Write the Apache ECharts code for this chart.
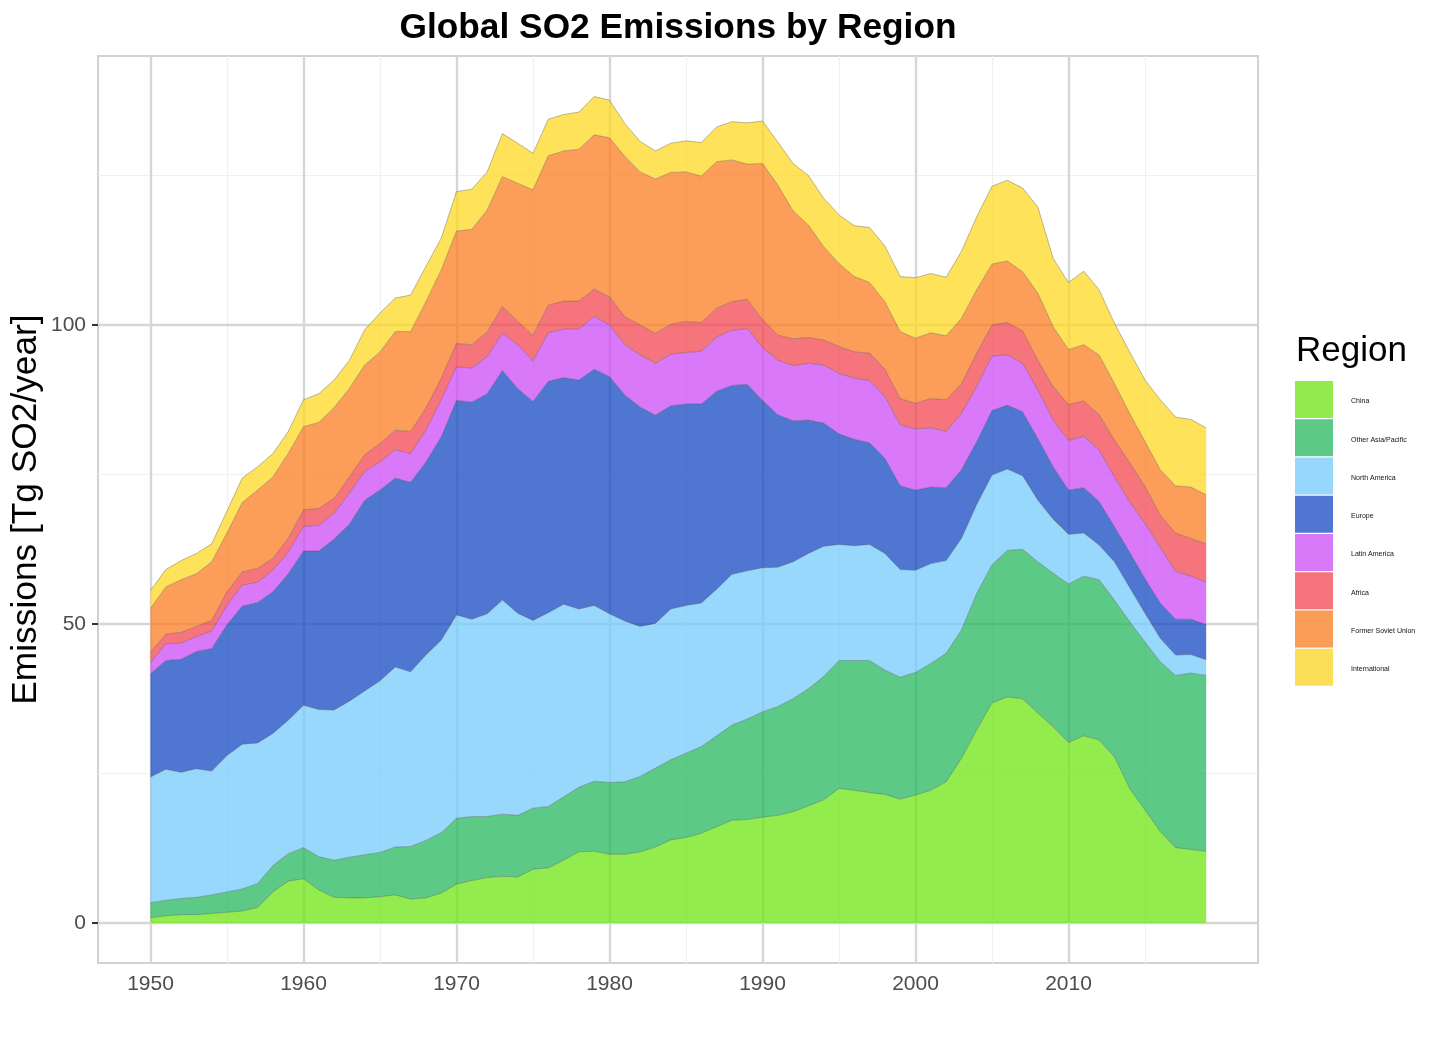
<!DOCTYPE html>
<html><head><meta charset="utf-8">
<style>html,body{margin:0;padding:0;background:#fff}#c{width:1440px;height:1046px}</style>
<script src="https://cdn.jsdelivr.net/npm/echarts@6/dist/echarts.min.js"></script>
</head><body><div id="c"></div>
<script>
const years=[1950,1951,1952,1953,1954,1955,1956,1957,1958,1959,1960,1961,1962,1963,1964,1965,1966,1967,1968,1969,1970,1971,1972,1973,1974,1975,1976,1977,1978,1979,1980,1981,1982,1983,1984,1985,1986,1987,1988,1989,1990,1991,1992,1993,1994,1995,1996,1997,1998,1999,2000,2001,2002,2003,2004,2005,2006,2007,2008,2009,2010,2011,2012,2013,2014,2015,2016,2017,2018,2019];
const china=[0.9,1.2,1.4,1.4,1.6,1.8,2.0,2.6,5.2,7.0,7.4,5.5,4.3,4.2,4.2,4.4,4.7,4.0,4.2,5.0,6.5,7.1,7.6,7.8,7.7,9.0,9.2,10.5,11.9,12.0,11.5,11.5,11.9,12.7,13.9,14.3,15.0,16.1,17.2,17.3,17.7,18.0,18.6,19.6,20.6,22.5,22.2,21.8,21.5,20.7,21.4,22.2,23.6,27.5,32.3,36.8,37.8,37.5,35.1,32.8,30.2,31.3,30.6,27.8,22.5,18.9,15.3,12.6,12.3,12.0];
const otherAsia=[2.5,2.6,2.7,2.9,3.1,3.4,3.7,4.0,4.4,4.6,5.2,5.6,6.2,6.8,7.2,7.4,8.0,8.8,9.6,10.1,11.0,10.7,10.2,10.4,10.3,10.2,10.3,10.6,10.8,11.7,12.0,12.1,12.6,13.2,13.4,14.1,14.5,15.2,15.9,16.8,17.6,18.2,18.9,19.6,20.6,21.4,21.7,22.1,20.8,20.4,20.5,21.2,21.5,21.5,22.8,23.1,24.5,25.0,25.3,25.7,26.5,26.7,26.8,26.2,27.9,28.1,28.4,28.8,29.5,29.4];
const northAmerica=[21.0,21.9,21.1,21.5,20.7,22.8,24.2,23.5,22.1,22.3,23.8,24.6,25.1,26.1,27.4,28.7,30.1,29.2,31.0,32.2,34.0,33.0,33.9,35.8,33.8,31.4,32.4,32.2,29.8,29.4,28.2,26.9,25.1,24.2,25.2,24.7,24.0,24.5,25.2,24.8,24.1,23.3,22.9,22.6,21.8,19.4,19.2,19.4,19.5,18.0,17.1,16.7,15.5,15.3,14.9,15.0,13.6,12.3,10.3,9.0,8.3,7.2,5.8,6.4,5.7,4.8,3.9,3.4,3.1,2.6];
const europe=[17.3,18.2,18.9,19.6,20.5,21.9,23.1,23.5,23.7,24.5,25.8,26.5,28.6,29.6,31.9,31.9,31.6,31.7,32.3,34.0,35.9,36.3,36.8,38.4,37.6,36.6,38.7,37.9,38.3,39.5,39.7,37.8,36.7,34.8,34.0,33.7,33.3,33.1,31.6,31.2,28.0,25.5,23.6,22.3,20.6,18.5,17.8,17.0,15.9,14.0,13.4,12.8,12.2,11.5,10.5,10.8,10.7,10.7,10.3,8.8,7.4,7.6,7.3,5.9,5.9,5.8,5.9,6.0,5.9,5.9];
const latinAmerica=[1.8,2.8,2.7,2.5,2.9,3.2,3.5,3.4,3.6,3.6,4.1,4.3,4.3,5.2,4.8,4.7,4.7,4.8,5.3,6.2,5.6,5.7,6.2,6.2,7.3,6.8,8.1,8.1,8.5,8.8,8.6,8.4,8.7,8.7,8.6,8.6,8.8,9.1,9.2,9.3,8.8,9.1,9.2,9.5,9.7,10.1,10.2,10.4,10.3,10.2,10.2,9.9,9.4,9.4,9.2,9.1,8.4,8.1,8.1,7.8,8.3,8.6,8.6,8.3,8.4,9.2,9.3,8.0,7.2,7.1];
const africa=[1.8,1.6,1.8,1.7,1.8,2.3,2.2,2.3,2.0,2.3,2.8,2.8,2.5,2.7,2.8,3.1,3.3,3.7,3.7,3.6,3.9,3.9,4.1,4.5,3.9,4.3,4.6,4.7,4.7,4.6,4.7,4.7,5.0,5.0,5.0,5.2,4.8,4.8,4.8,4.9,4.7,4.2,4.5,4.3,4.2,4.5,4.4,4.6,4.6,4.4,4.3,4.9,5.3,5.0,5.6,5.2,5.4,5.4,5.0,5.6,6.0,5.9,5.9,6.2,6.6,6.2,5.4,6.4,6.3,6.4];
const formerSoviet=[7.3,7.9,8.8,8.8,9.8,9.8,11.6,13.1,13.6,14.2,13.9,14.4,15.2,14.8,15.0,15.3,16.5,16.7,17.8,18.1,18.8,19.3,20.4,21.7,23.1,24.3,25.0,25.1,25.4,25.8,26.6,26.8,25.6,25.8,25.4,25.0,24.5,24.5,23.7,22.6,26.1,25.1,21.4,18.8,15.6,13.9,12.6,11.8,11.3,11.2,10.9,11.0,10.7,10.9,10.6,10.2,10.3,9.9,11.2,10.0,9.2,9.4,10.0,9.4,8.2,7.5,7.6,7.9,8.6,8.2];
const international=[3.0,2.9,3.2,3.4,3.0,3.7,4.1,3.9,3.9,3.7,4.5,4.8,4.6,4.7,5.9,6.5,5.6,6.1,5.9,5.3,6.6,6.7,6.4,7.2,6.7,6.1,6.1,6.1,6.2,6.4,6.3,5.5,5.1,4.7,4.9,5.2,5.6,5.8,6.4,6.9,7.1,7.2,7.9,8.3,8.1,8.1,8.5,9.2,9.3,9.2,10.1,9.9,9.8,11.2,12.2,13.0,13.5,14.0,14.4,11.4,11.2,12.3,10.9,10.1,10.3,10.3,11.7,11.5,11.3,11.2];
const regionNames=['China','Other Asia/Pacific','North America','Europe','Latin America','Africa','Former Soviet Union','International'];
const regionValues=[china,otherAsia,northAmerica,europe,latinAmerica,africa,formerSoviet,international];
const fillColors=['rgba(110,230,19,0.75)','rgba(38,183,94,0.75)','rgba(118,203,251,0.75)','rgba(20,72,194,0.75)','rgba(204,76,248,0.75)','rgba(243,70,80,0.75)','rgba(252,124,35,0.75)','rgba(254,218,35,0.75)'];
const swatchColors=['#91EA4E','#5CC986','#97D7FB','#4F76D1','#D779F9','#F5737B','#FB9C58','#FBDF58'];
const xMajor=[1950,1960,1970,1980,1990,2000,2010];
const xMinor=[1955,1965,1975,1985,1995,2005,2015];
const yMajor=[0,50,100];
const yMinor=[25,75,125];

const font='"Liberation Sans", Arial, sans-serif';
const majorLine={color:'#d6d6d6',width:2.4,type:'solid'};
const minorLine={color:'#f0f0f0',width:1.2,type:'solid'};
const gridMarks=[
  ...xMinor.map(v=>({xAxis:v,lineStyle:minorLine})),
  ...yMinor.map(v=>({yAxis:v,lineStyle:minorLine})),
  ...xMajor.map(v=>({xAxis:v,lineStyle:majorLine})),
  ...yMajor.map(v=>({yAxis:v,lineStyle:majorLine}))
];
const areaSeries=regionNames.map((name,i)=>({
  name,type:'line',stack:'total',z:3,showSymbol:false,symbol:'none',silent:true,animation:false,
  // value first: ECharts stacks the first numeric column of each row
  encode:{x:1,y:0},
  data:years.map((y,j)=>[regionValues[i][j],y]),
  lineStyle:{width:0.8,color:'rgba(70,70,70,0.45)'},
  itemStyle:{color:swatchColors[i]},
  areaStyle:{color:fillColors[i],opacity:1}
}));
const chart=echarts.init(document.getElementById('c'),null,{renderer:'canvas'});
chart.setOption({
  animation:false,backgroundColor:'#ffffff',
  title:[
    {text:'Global SO2 Emissions by Region',left:678,top:11,padding:0,textAlign:'center',textStyle:{fontFamily:font,fontSize:35.3,fontWeight:'bold',color:'#000'}},
    {text:'Region',left:1296,top:334,padding:0,textStyle:{fontFamily:font,fontSize:35,fontWeight:'normal',color:'#000'}}
  ],
  grid:{left:98,top:56,width:1160,height:907,show:true,backgroundColor:'#fff',borderColor:'#d2d2d2',borderWidth:2,containLabel:false,outerBoundsMode:'none'},
  xAxis:{type:'value',min:1946.569,max:2022.386,
    axisLine:{show:false},splitLine:{show:false},
    axisTick:{show:true,length:6,customValues:xMajor,lineStyle:{color:'#333',width:2}},
    axisLabel:{customValues:xMajor,margin:11,fontFamily:font,fontSize:21,color:'#4d4d4d',formatter:v=>String(v)}},
  yAxis:{type:'value',min:-6.689,max:144.98,
    name:'Emissions [Tg SO2/year]',nameLocation:'middle',nameGap:54,nameRotate:90,nameMoveOverlap:false,
    nameTextStyle:{fontFamily:font,fontSize:35.3,color:'#000'},
    axisLine:{show:false},splitLine:{show:false},
    axisTick:{show:true,length:6,customValues:yMajor,lineStyle:{color:'#333',width:2}},
    axisLabel:{customValues:yMajor,margin:12,fontFamily:font,fontSize:21,color:'#4d4d4d',formatter:v=>String(v)}},
  legend:{orient:'vertical',left:1295,top:381,padding:0,itemWidth:38,itemHeight:37,itemGap:1.25,icon:'rect',selectedMode:false,
    data:regionNames.map((n,i)=>({name:n,icon:'rect',itemStyle:{color:swatchColors[i],opacity:1,borderWidth:0}})),
    formatter:n=>'{t|'+n+'}',
    textStyle:{fontFamily:font,fontSize:7,color:'#111',rich:{t:{fontFamily:font,fontSize:7,color:'#111',padding:[4,0,0,13]}}}},
  series:[
    {type:'line',name:'grid',z:1,data:[],silent:true,showSymbol:false,
     markLine:{silent:true,z:1,symbol:'none',label:{show:false},animation:false,data:gridMarks}},
    ...areaSeries
  ]
});
</script></body></html>
